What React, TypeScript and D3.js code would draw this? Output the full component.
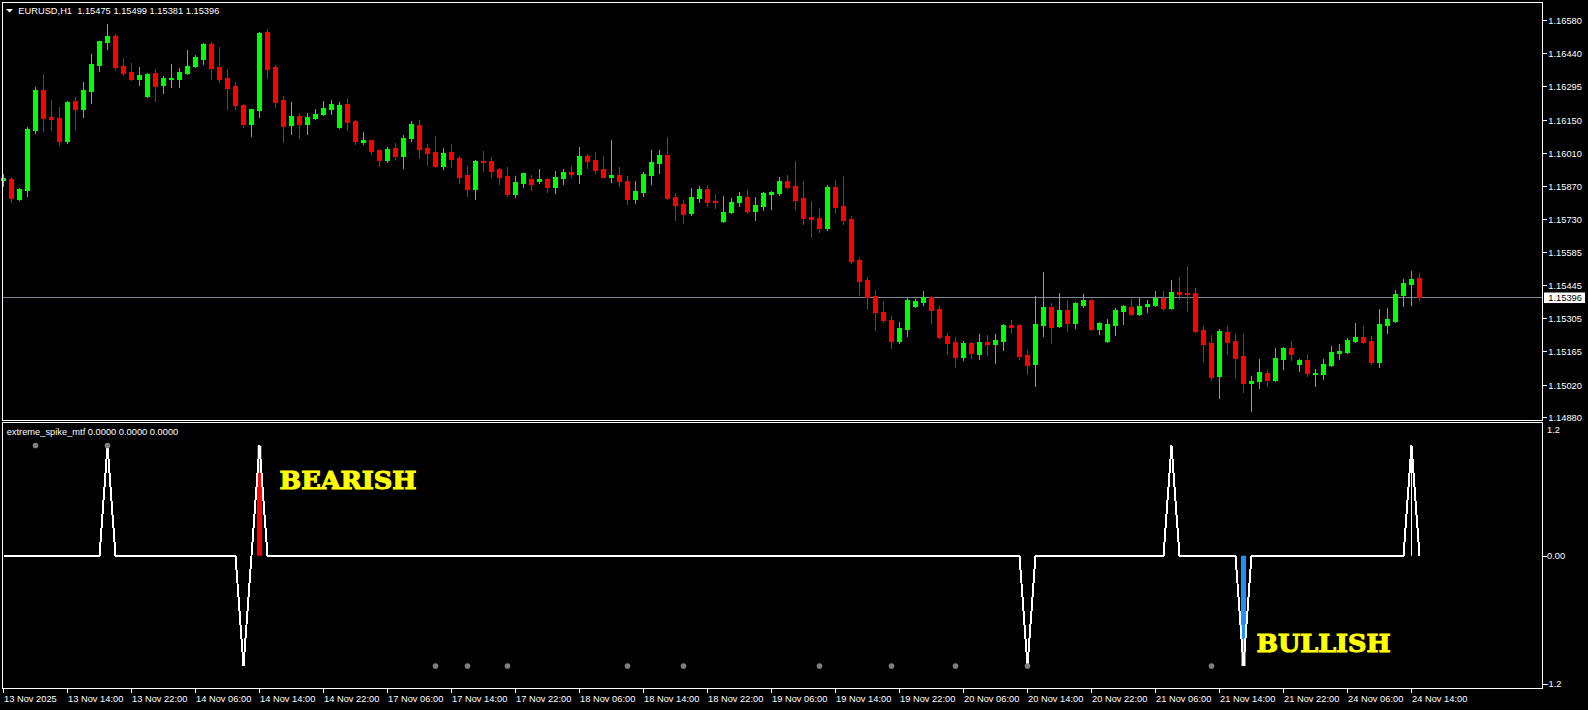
import React, { useEffect } from "react";
import * as d3 from "d3";

// ---------- DATA ----------
const symbolTitle = "EURUSD,H1";
const lastQuote = ["1.15475", "1.15499", "1.15381", "1.15396"];
const indicatorTitle = "extreme_spike_mtf 0.0000 0.0000 0.0000";
const bidPrice = 1.15396;

const openPrices = [
  1.15896, 1.159, 1.15814, 1.15853, 1.1611, 1.16281, 1.16165, 1.16161, 1.16063, 1.16234,
  1.16199, 1.16276, 1.16388, 1.16486, 1.16512, 1.16383, 1.16358, 1.16328, 1.16255, 1.16353,
  1.16302, 1.16328, 1.16328, 1.16353, 1.16383, 1.16413, 1.16477, 1.16379, 1.16332, 1.16298,
  1.16217, 1.16135, 1.16195, 1.16529, 1.16379, 1.16238, 1.16131, 1.16169, 1.16135, 1.16161,
  1.16178, 1.16199, 1.16122, 1.16221, 1.16148, 1.16058, 1.16067, 1.16024, 1.15981, 1.16033,
  1.15998, 1.16075, 1.16131, 1.16033, 1.16015, 1.15956, 1.16015, 1.1599, 1.15917, 1.15857,
  1.15977, 1.15977, 1.15943, 1.15913, 1.15836, 1.15883, 1.159, 1.15891, 1.159, 1.15866,
  1.15904, 1.1593, 1.15921, 1.15998, 1.15981, 1.15943, 1.15909, 1.15917, 1.15891, 1.15814,
  1.15844, 1.15917, 1.15968, 1.16003, 1.15823, 1.15793, 1.15755, 1.15819, 1.15857, 1.15806,
  1.1572, 1.15759, 1.15802, 1.15823, 1.15763, 1.15784, 1.15836, 1.1584, 1.15891, 1.1587,
  1.15819, 1.15737, 1.15733, 1.1569, 1.15866, 1.15784, 1.15729, 1.15554, 1.15468, 1.154,
  1.15331, 1.15297, 1.15207, 1.15258, 1.15357, 1.15374, 1.15395, 1.15344, 1.15229, 1.15203,
  1.15139, 1.15199, 1.15152, 1.15203, 1.15194, 1.15207, 1.15276, 1.15276, 1.15147, 1.15109,
  1.15276, 1.15353, 1.15271, 1.1534, 1.15284, 1.15361, 1.15383, 1.15258, 1.15207, 1.15276,
  1.15335, 1.15353, 1.15323, 1.15357, 1.15361, 1.15391, 1.15348, 1.15417, 1.15412, 1.15412,
  1.15254, 1.15199, 1.15057, 1.15246, 1.15207, 1.15143, 1.15028, 1.15036, 1.1507, 1.1504,
  1.1513, 1.15177, 1.15109, 1.15126, 1.15066, 1.15066, 1.15104, 1.15156, 1.1516, 1.15207,
  1.15224, 1.15207, 1.15117, 1.15276, 1.15293, 1.15404, 1.15451, 1.15475,
];
const highPrices = [
  1.15921, 1.15909, 1.15862, 1.16122, 1.16293, 1.16349, 1.16238, 1.16208, 1.16234, 1.16251,
  1.16315, 1.16435, 1.1649, 1.16563, 1.1652, 1.16417, 1.16396, 1.16379, 1.16353, 1.1637,
  1.16341, 1.16392, 1.16375, 1.16452, 1.1643, 1.16482, 1.16486, 1.16465, 1.1637, 1.16315,
  1.16221, 1.16199, 1.16529, 1.16542, 1.16388, 1.16255, 1.16229, 1.16182, 1.16182, 1.16199,
  1.16234, 1.16238, 1.16229, 1.16246, 1.16152, 1.16101, 1.16067, 1.16024, 1.16037, 1.16054,
  1.16088, 1.16148, 1.16152, 1.1605, 1.16084, 1.16033, 1.1605, 1.15998, 1.15956, 1.15981,
  1.1602, 1.15994, 1.15947, 1.15951, 1.15913, 1.15926, 1.15917, 1.15943, 1.15904, 1.15934,
  1.15943, 1.15956, 1.16037, 1.16007, 1.16015, 1.15998, 1.16067, 1.15951, 1.15913, 1.15891,
  1.1593, 1.16024, 1.16024, 1.1608, 1.1584, 1.1581, 1.15862, 1.1587, 1.15874, 1.15836,
  1.15827, 1.15819, 1.15844, 1.15853, 1.15823, 1.15844, 1.15849, 1.15909, 1.15917, 1.15977,
  1.15891, 1.15806, 1.15776, 1.15874, 1.15896, 1.15913, 1.15742, 1.15566, 1.15481, 1.15425,
  1.15378, 1.15314, 1.15288, 1.15391, 1.15387, 1.15421, 1.154, 1.15357, 1.15241, 1.15224,
  1.15207, 1.15203, 1.15237, 1.15233, 1.15237, 1.1528, 1.15297, 1.1528, 1.15169, 1.154,
  1.15502, 1.1537, 1.15412, 1.15383, 1.15374, 1.15408, 1.15387, 1.15288, 1.15301, 1.15348,
  1.15361, 1.15387, 1.15391, 1.15383, 1.15421, 1.15421, 1.15468, 1.15481, 1.15528, 1.15435,
  1.15271, 1.15233, 1.15258, 1.15271, 1.15237, 1.15237, 1.15057, 1.1513, 1.15083, 1.15177,
  1.15182, 1.15207, 1.1513, 1.15152, 1.15087, 1.1513, 1.15186, 1.15194, 1.1522, 1.15284,
  1.15271, 1.15229, 1.15344, 1.15348, 1.15425, 1.15472, 1.15507, 1.15499,
];
const lowPrices = [
  1.1587, 1.15802, 1.1581, 1.15827, 1.16097, 1.16105, 1.1611, 1.16045, 1.16054, 1.16114,
  1.16165, 1.16225, 1.16362, 1.16456, 1.16366, 1.16345, 1.16323, 1.16302, 1.16251, 1.16234,
  1.16268, 1.16293, 1.16293, 1.16349, 1.16379, 1.16392, 1.16328, 1.16315, 1.16199, 1.16199,
  1.16122, 1.16084, 1.16165, 1.16332, 1.16208, 1.16058, 1.16092, 1.16075, 1.16092, 1.16157,
  1.16174, 1.16178, 1.16118, 1.1611, 1.1605, 1.1605, 1.16007, 1.15956, 1.15973, 1.15986,
  1.15947, 1.16063, 1.1599, 1.1596, 1.15951, 1.15943, 1.15951, 1.15883, 1.15827, 1.15814,
  1.15934, 1.15909, 1.15879, 1.15827, 1.15823, 1.15866, 1.15853, 1.15883, 1.15844, 1.1584,
  1.15879, 1.15909, 1.15883, 1.15947, 1.15926, 1.15909, 1.15887, 1.1587, 1.15793, 1.15797,
  1.15827, 1.15879, 1.15926, 1.15814, 1.15725, 1.15712, 1.15746, 1.15802, 1.15784, 1.15776,
  1.15716, 1.15755, 1.15784, 1.15755, 1.15725, 1.15767, 1.15772, 1.15832, 1.15862, 1.15772,
  1.15708, 1.15652, 1.15673, 1.15682, 1.15755, 1.15708, 1.15541, 1.15404, 1.15344, 1.15254,
  1.15288, 1.15177, 1.15199, 1.15229, 1.15353, 1.15361, 1.15284, 1.1522, 1.15152, 1.15096,
  1.15126, 1.15134, 1.1513, 1.15147, 1.15113, 1.15169, 1.15241, 1.1513, 1.15066, 1.15015,
  1.15229, 1.15199, 1.15267, 1.1525, 1.15263, 1.15353, 1.15254, 1.15237, 1.15203, 1.15233,
  1.1528, 1.15318, 1.15318, 1.15331, 1.15357, 1.1534, 1.15344, 1.15387, 1.15335, 1.15246,
  1.15122, 1.1504, 1.14963, 1.15152, 1.15053, 1.14989, 1.14908, 1.15006, 1.15015, 1.15036,
  1.15087, 1.15126, 1.15079, 1.15057, 1.15015, 1.15045, 1.151, 1.1513, 1.15156, 1.15203,
  1.15199, 1.15109, 1.15096, 1.15241, 1.15288, 1.15357, 1.15361, 1.15381,
];
const closePrices = [
  1.15904, 1.15819, 1.15857, 1.16114, 1.16281, 1.16161, 1.16157, 1.16063, 1.16229, 1.16199,
  1.16281, 1.16392, 1.1649, 1.16512, 1.16379, 1.16353, 1.16328, 1.16345, 1.16349, 1.16298,
  1.16332, 1.16332, 1.16358, 1.16383, 1.16422, 1.16477, 1.16375, 1.16328, 1.16289, 1.16217,
  1.16135, 1.16199, 1.16524, 1.1637, 1.16229, 1.16127, 1.16169, 1.16135, 1.16165, 1.16178,
  1.16204, 1.16221, 1.16217, 1.16144, 1.16063, 1.16067, 1.1602, 1.15981, 1.16028, 1.15998,
  1.16075, 1.16135, 1.16028, 1.16011, 1.15956, 1.16011, 1.15986, 1.15909, 1.15857, 1.15977,
  1.15973, 1.15934, 1.15909, 1.15836, 1.15887, 1.15926, 1.15879, 1.159, 1.15866, 1.15909,
  1.1593, 1.15921, 1.15998, 1.15977, 1.15938, 1.15909, 1.15917, 1.15891, 1.15814, 1.15849,
  1.15921, 1.15973, 1.16003, 1.15819, 1.15789, 1.1575, 1.15823, 1.15857, 1.15802, 1.15802,
  1.15759, 1.15802, 1.15827, 1.15763, 1.15789, 1.1584, 1.15844, 1.15891, 1.15866, 1.1581,
  1.15733, 1.15729, 1.1569, 1.15866, 1.1578, 1.15725, 1.15549, 1.15464, 1.15395, 1.15331,
  1.15297, 1.15207, 1.15263, 1.15383, 1.15378, 1.15395, 1.1534, 1.15224, 1.15199, 1.15139,
  1.15199, 1.15156, 1.15203, 1.15194, 1.15211, 1.15276, 1.15267, 1.15143, 1.15104, 1.1528,
  1.15353, 1.15267, 1.1534, 1.15284, 1.1537, 1.15383, 1.15258, 1.15284, 1.1528, 1.1534,
  1.15357, 1.15323, 1.15357, 1.15365, 1.15391, 1.15348, 1.15417, 1.15408, 1.15408, 1.1525,
  1.15194, 1.15053, 1.1525, 1.15203, 1.15134, 1.15028, 1.15036, 1.15075, 1.1504, 1.15134,
  1.15177, 1.15152, 1.15126, 1.1507, 1.1507, 1.15109, 1.1516, 1.15164, 1.15211, 1.15224,
  1.15203, 1.15117, 1.1528, 1.15301, 1.15408, 1.15455, 1.15472, 1.15396,
];

// indicator line (one value per bar)
const spikeValues = [
  0, 0, 0, 0, 0, 0, 0, 0, 0, 0, 0, 0, 0, 1, 0, 0, 0, 0, 0, 0,
  0, 0, 0, 0, 0, 0, 0, 0, 0, 0, -1, 0, 1, 0, 0, 0, 0, 0, 0, 0,
  0, 0, 0, 0, 0, 0, 0, 0, 0, 0, 0, 0, 0, 0, 0, 0, 0, 0, 0, 0,
  0, 0, 0, 0, 0, 0, 0, 0, 0, 0, 0, 0, 0, 0, 0, 0, 0, 0, 0, 0,
  0, 0, 0, 0, 0, 0, 0, 0, 0, 0, 0, 0, 0, 0, 0, 0, 0, 0, 0, 0,
  0, 0, 0, 0, 0, 0, 0, 0, 0, 0, 0, 0, 0, 0, 0, 0, 0, 0, 0, 0,
  0, 0, 0, 0, 0, 0, 0, 0, -1, 0, 0, 0, 0, 0, 0, 0, 0, 0, 0, 0,
  0, 0, 0, 0, 0, 0, 1, 0, 0, 0, 0, 0, 0, 0, 0, -1, 0, 0, 0, 0,
  0, 0, 0, 0, 0, 0, 0, 0, 0, 0, 0, 0, 0, 0, 0, 0, 1, 0,
];
// signal histogram bars: [bar, value]
const bearishBars = [[32, 1]];
const bullishBars = [[155, -1]];
const currentBars = [[176, 1]];
// grey dots: [bar, value]
const dotMarks = [
  [4, 1], [13, 1], [54, -1], [58, -1], [63, -1], [78, -1], [85, -1],
  [102, -1], [111, -1], [119, -1], [128, -1], [151, -1],
];

const priceTickLabels = [
  "1.16580", "1.16440", "1.16295", "1.16150", "1.16010", "1.15870", "1.15730",
  "1.15585", "1.15445", "1.15305", "1.15165", "1.15020", "1.14880",
];
const timeLabels = [
  "13 Nov 2025", "13 Nov 14:00", "13 Nov 22:00", "14 Nov 06:00", "14 Nov 14:00", "14 Nov 22:00",
  "17 Nov 06:00", "17 Nov 14:00", "17 Nov 22:00", "18 Nov 06:00", "18 Nov 14:00", "18 Nov 22:00",
  "19 Nov 06:00", "19 Nov 14:00", "19 Nov 22:00", "20 Nov 06:00", "20 Nov 14:00", "20 Nov 22:00",
  "21 Nov 06:00", "21 Nov 14:00", "21 Nov 22:00", "24 Nov 06:00", "24 Nov 14:00",
];
const timeLabelStep = 8;
const indicatorTickLabels = [
  { v: 1.2, t: "1.2" },
  { v: 0, t: "0.00" },
  { v: -1.2, t: "-1.2" },
];

// ---------- LAYOUT ----------
const W = 1588;
const H = 710;
const PL = 2.5;
const PR = 1542.5;
const priceTop = 2.5;
const priceBottom = 420.5;
const indTop = 422.5;
const indBottom = 688.5;
const FONT = "'Liberation Sans', Arial, sans-serif";
const FS = 9.3;
const BULL = "#00ff00";
const BEAR = "#ff0000";

export default function App() {
  useEffect(() => {
    document.body.style.margin = "0";
    document.body.style.background = "#000";
  }, []);

  const n = openPrices.length;
  const x = d3.scaleLinear().domain([0, n - 1]).range([3, 3 + 8 * (n - 1)]);
  const y = d3.scaleLinear().domain([1.1488, 1.1658]).range([417.5, 20]);
  const yi = d3.scaleLinear().domain([-1.2, 1.2]).range([688, 423.5]);

  const linePath = d3
    .line<number>()
    .x((_, i) => x(i) + 0.5)
    .y((d) => yi(d))(spikeValues) || "";

  const candles = d3.range(n).map((i) => {
    const o = openPrices[i];
    const c = closePrices[i];
    const col = c >= o ? BULL : BEAR;
    const xb = x(i);
    const top = Math.round(y(Math.max(o, c)));
    const bot = Math.round(y(Math.min(o, c)));
    const hTop = Math.round(y(highPrices[i]));
    const lBot = Math.round(y(lowPrices[i]));
    return (
      <g key={i}>
        <rect x={xb} y={hTop} width={1} height={Math.max(1, lBot - hTop + 1)} fill={col} />
        <rect x={xb - 2} y={top} width={5} height={Math.max(1, bot - top + 1)} fill={col} />
      </g>
    );
  });

  const histo = (arr: number[][], color: string, w: number) =>
    arr.map(([b, v], k) => {
      const y0 = yi(0);
      const y1 = yi(v);
      return (
        <rect
          key={color + k}
          x={x(b) + 0.5 - w / 2}
          y={Math.min(y0, y1)}
          width={w}
          height={Math.abs(y1 - y0)}
          fill={color}
        />
      );
    });

  const bidY = Math.round(y(bidPrice)) + 0.5;

  const signalText = (label: string, tx: number, ty: number, len: number) => (
    <text
      x={tx}
      y={ty}
      fill="#ffff00"
      stroke="#ffff00"
      strokeWidth={1.1}
      fontSize={24.5}
      fontWeight="bold"
      fontFamily="'DejaVu Serif', serif"
      textLength={len}
      lengthAdjust="spacingAndGlyphs"
    >
      {label}
    </text>
  );

  return (
    <svg
      width={W}
      height={H}
      style={{ position: "fixed", left: 0, top: 0, display: "block", background: "#000" }}
      fontFamily={FONT}
    >
      <rect x={0} y={0} width={W} height={H} fill="#000" />

      {/* bid line */}
      <line x1={PL} x2={PR} y1={bidY} y2={bidY} stroke="#778899" strokeWidth={1} />

      {/* candles */}
      <g shapeRendering="crispEdges">{candles}</g>

      {/* pane borders */}
      <g fill="none" stroke="#fff" strokeWidth={1} shapeRendering="crispEdges">
        <rect x={PL} y={priceTop} width={PR - PL} height={priceBottom - priceTop} />
        <rect x={PL} y={indTop} width={PR - PL} height={indBottom - indTop} />
      </g>

      {/* header */}
      <path d="M6,9 L13,9 L9.5,12.5 Z" fill="#fff" />
      <text x={18.3} y={13.6} fill="#fff" fontSize={FS} style={{ whiteSpace: "pre" }}>
        {symbolTitle + "  " + lastQuote.join(" ")}
      </text>

      {/* price axis */}
      <g>
        {priceTickLabels.map((t) => {
          const yy = Math.round(y(parseFloat(t)) - 0.2) + 0.5;
          return (
            <g key={t}>
              <line x1={PR} x2={PR + 4} y1={yy} y2={yy} stroke="#fff" shapeRendering="crispEdges" />
              <text x={1548.3} y={yy + 3.4} fill="#fff" fontSize={FS}>
                {t}
              </text>
            </g>
          );
        })}
      </g>

      {/* bid price label */}
      <rect x={1544} y={bidY - 5} width={41} height={10.5} fill="#fff" />
      <text x={1548.3} y={bidY + 3.4} fill="#000" fontSize={FS}>
        {bidPrice.toFixed(5)}
      </text>

      {/* indicator pane */}
      <text x={6.7} y={435} fill="#fff" fontSize={FS}>
        {indicatorTitle}
      </text>
      {histo(bearishBars, BEAR, 5)}
      {histo(bullishBars, "#1e90ff", 5)}
      <path d={linePath} fill="none" stroke="#fff" strokeWidth={2} shapeRendering="crispEdges" />
      {histo(currentBars, "#fff", 1)}
      {dotMarks.map(([b, v], k) => (
        <circle key={k} cx={x(b) + 0.5} cy={yi(v)} r={2.8} fill="#7f7f7f" />
      ))}

      {/* indicator axis */}
      {indicatorTickLabels.map(({ v, t }) => {
        let yy = yi(v);
        if (v > 0) yy = 430;
        if (v < 0) yy = 683.5;
        return (
          <g key={t}>
            {v <= 0 && (
              <line x1={PR} x2={PR + 4} y1={Math.round(yy) + 0.5} y2={Math.round(yy) + 0.5} stroke="#fff" shapeRendering="crispEdges" />
            )}
            <text x={v < 0 ? 1545.5 : 1547} y={yy + 3.4} fill="#fff" fontSize={FS}>
              {t}
            </text>
          </g>
        );
      })}

      {/* signal labels */}
      {signalText("BEARISH", 279.5, 488.8, 137)}
      {signalText("BULLISH", 1256.5, 651.5, 134)}

      {/* time axis */}
      {timeLabels.map((t, k) => {
        const xb = x(k * timeLabelStep);
        return (
          <g key={t}>
            <line x1={xb + 0.5} x2={xb + 0.5} y1={indBottom} y2={indBottom + 4} stroke="#fff" shapeRendering="crispEdges" />
            <text x={xb + 1} y={702} fill="#fff" fontSize={FS}>
              {t}
            </text>
          </g>
        );
      })}
    </svg>
  );
}
